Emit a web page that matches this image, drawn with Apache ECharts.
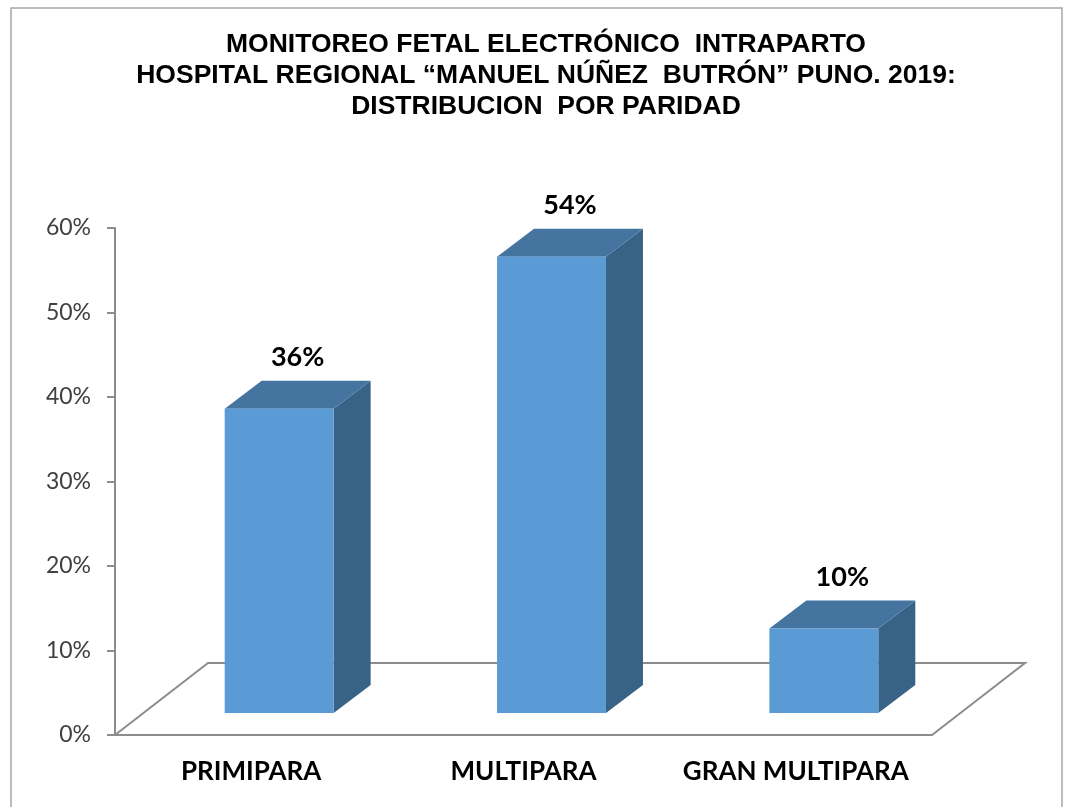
<!DOCTYPE html>
<html>
<head>
<meta charset="utf-8">
<script src="https://cdn.jsdelivr.net/npm/echarts@6/dist/echarts.min.js"></script>
<style>
  html, body { margin: 0; padding: 0; background: #fff; }
  #chart { width: 1067px; height: 807px; }
</style>
</head>
<body>
<div id="chart"></div>
<script>
// data
const categories = ['PRIMIPARA', 'MULTIPARA', 'GRAN MULTIPARA'];
const values = [0.36, 0.54, 0.10];
const yTicks = [0, 0.1, 0.2, 0.3, 0.4, 0.5, 0.6];

const titleLines = [
  'MONITOREO FETAL ELECTRÓNICO  INTRAPARTO',
  'HOSPITAL REGIONAL “MANUEL NÚÑEZ  BUTRÓN” PUNO. 2019:',
  'DISTRIBUCION  POR PARIDAD'
];

// 3d look: floor depth, bar depth, bar offset into the floor
const FLOOR = [93, -72];
const DEPTH = [37, -28];
const SHIFT = [(FLOOR[0] - DEPTH[0]) / 2, (FLOOR[1] - DEPTH[1]) / 2];
const GRAY = '#8c8c8c';
const BODY_FONT = 'Lato, "Open Sans", sans-serif';

const pct = v => Math.round(v * 100) + '%';

function renderFloor (params, api) {
  const cs = params.coordSys;
  const x0 = cs.x, x1 = cs.x + cs.width, y0 = cs.y + cs.height;
  return {
    type: 'polyline',
    shape: {
      points: [
        [x0, y0],
        [x0 + FLOOR[0], y0 + FLOOR[1]],
        [x1 + FLOOR[0], y0 + FLOOR[1]],
        [x1, y0]
      ]
    },
    style: { stroke: GRAY, lineWidth: 2, fill: null }
  };
}

function renderBar (params, api) {
  const idx = api.value(0);
  const v = api.value(1);
  const base = api.coord([idx, 0]);
  const top = api.coord([idx, v]);
  const w = api.size([1, 0])[0] * 0.4;
  const x0 = base[0] + SHIFT[0] - w / 2;
  const x1 = x0 + w;
  const yb = base[1] + SHIFT[1];
  const yt = top[1] + SHIFT[1];
  const dx = DEPTH[0], dy = DEPTH[1];
  return {
    type: 'group',
    children: [
      {
        type: 'polygon',
        shape: { points: [[x1, yt], [x1 + dx, yt + dy], [x1 + dx, yb + dy], [x1, yb]] },
        style: { fill: '#386387' }
      },
      {
        type: 'polygon',
        shape: { points: [[x0, yt], [x0 + dx, yt + dy], [x1 + dx, yt + dy], [x1, yt]] },
        style: { fill: '#44749f' }
      },
      {
        type: 'rect',
        shape: { x: x0, y: yt, width: w, height: yb - yt },
        style: { fill: '#5b9bd5' }
      },
      {
        type: 'text',
        x: x0 + w / 2 + dx / 2,
        y: yt + dy - 10,
        style: {
          text: pct(v),
          fill: '#000',
          font: 'bold 27px ' + BODY_FONT,
          align: 'center',
          verticalAlign: 'bottom'
        }
      }
    ]
  };
}

const chart = echarts.init(document.getElementById('chart'));
chart.setOption({
  backgroundColor: '#fff',
  animation: false,
  title: {
    text: titleLines.join('\n'),
    left: 541,
    top: 24,
    textAlign: 'center',
    textStyle: {
      fontFamily: '"Liberation Sans", Arial, sans-serif',
      fontWeight: 'bold',
      fontSize: 26.5,
      lineHeight: 31,
      color: '#000'
    }
  },
  graphic: [{
    type: 'rect',
    shape: { x: 11, y: 8, width: 1051, height: 800 },
    style: { fill: null, stroke: '#a6a6a6', lineWidth: 1.5 },
    silent: true
  }],
  grid: { left: 115, right: 135, top: 228, bottom: 72 },
  xAxis: {
    type: 'category',
    data: categories,
    axisLine: { lineStyle: { color: GRAY, width: 2 } },
    axisTick: { length: 7, lineStyle: { color: GRAY, width: 2 } },
    axisLabel: {
      interval: 0,
      margin: 24,
      color: '#000',
      fontWeight: 'bold',
      fontSize: 26,
      fontFamily: BODY_FONT
    }
  },
  yAxis: {
    type: 'value',
    min: yTicks[0],
    max: yTicks[yTicks.length - 1],
    interval: 0.1,
    splitLine: { show: false },
    axisLine: { show: true, lineStyle: { color: GRAY, width: 2 } },
    axisTick: { show: true, length: 8, lineStyle: { color: GRAY, width: 2 } },
    axisLabel: {
      margin: 24,
      color: '#404040',
      fontSize: 23,
      fontFamily: BODY_FONT,
      formatter: pct
    }
  },
  series: [
    {
      type: 'custom',
      renderItem: renderFloor,
      data: [[0, 0]],
      clip: false,
      z: 1
    },
    {
      type: 'custom',
      renderItem: renderBar,
      data: values.map((v, i) => [i, v]),
      clip: false,
      z: 3
    }
  ]
});
</script>
</body>
</html>
